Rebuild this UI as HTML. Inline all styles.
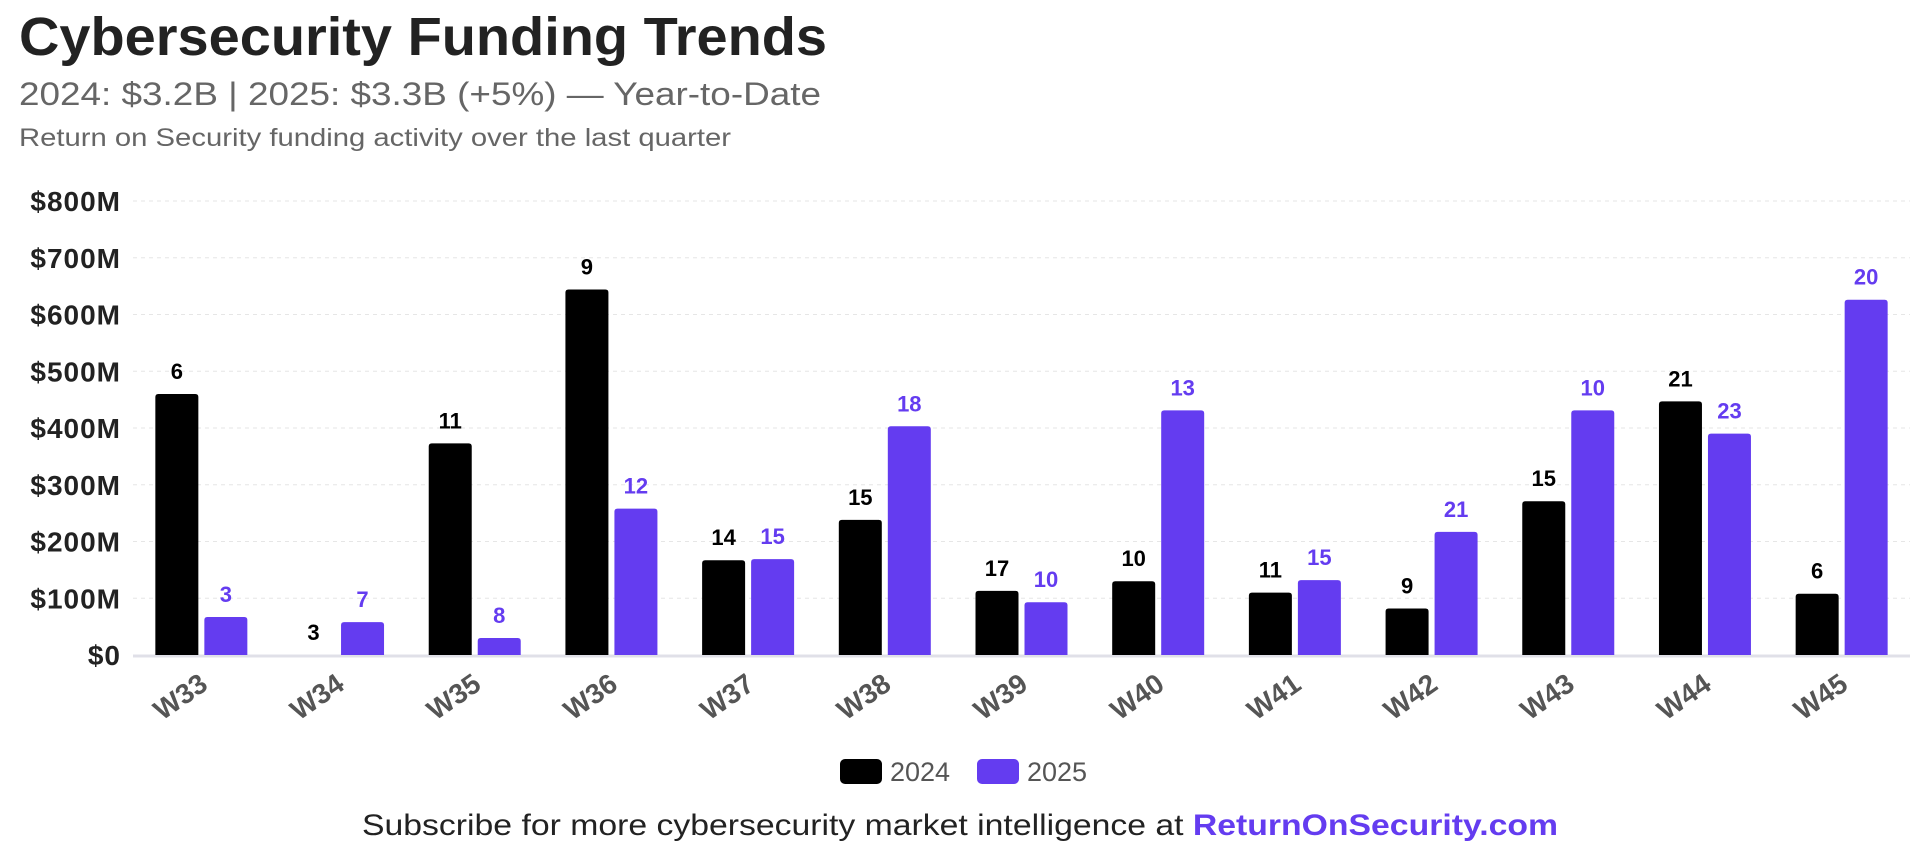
<!DOCTYPE html>
<html><head><meta charset="utf-8"><style>
body{margin:0;width:1920px;height:847px;background:#fff;overflow:hidden;font-family:"Liberation Sans",Arial,sans-serif}
svg text{font-family:"Liberation Sans",Arial,sans-serif}
</style></head><body>
<svg id="c" width="1920" height="847">
<text x="19" y="55" font-size="54" font-weight="bold" fill="#222" textLength="808" lengthAdjust="spacingAndGlyphs">Cybersecurity Funding Trends</text>
<text x="19" y="105" font-size="32" fill="#666" textLength="802" lengthAdjust="spacingAndGlyphs">2024: $3.2B | 2025: $3.3B (+5%) — Year-to-Date</text>
<text x="19" y="146" font-size="25" fill="#666" textLength="712" lengthAdjust="spacingAndGlyphs">Return on Security funding activity over the last quarter</text>
<g id="grid"></g><g id="bars"></g><g id="xl"></g>
<g>
<rect x="840" y="759" width="42" height="25" rx="5" fill="#000"/>
<text x="890" y="781" font-size="27" fill="#555">2024</text>
<rect x="977" y="759" width="42" height="25" rx="5" fill="#643cf0"/>
<text x="1027" y="781" font-size="27" fill="#555">2025</text>
</g>
<text x="362" y="835" font-size="30" fill="#222" textLength="1196" lengthAdjust="spacingAndGlyphs">Subscribe for more cybersecurity market intelligence at <tspan font-weight="bold" fill="#643cf0">ReturnOnSecurity.com</tspan></text>
</svg>
<script>
const categories=["W33","W34","W35","W36","W37","W38","W39","W40","W41","W42","W43","W44","W45"];
const values2024=[460,0,373,644,167,238,113,130,110,82,271,447,108];
const values2025=[67,58,30,258,169,403,93,431,132,217,431,390,626];
const counts2024=[6,3,11,9,14,15,17,10,11,9,15,21,6];
const counts2025=[3,7,8,12,15,18,10,13,15,21,10,23,20];
const yTicks=[0,100,200,300,400,500,600,700,800];
const yTickLabels=["$0","$100M","$200M","$300M","$400M","$500M","$600M","$700M","$800M"];
const NS="http://www.w3.org/2000/svg";
const x0=133,x1=1910,y0=655,yTop=201,yMax=800;
const bw=(x1-x0)/categories.length;
const y=v=>y0-(v/yMax)*(y0-yTop);
const xc=i=>x0+bw*(i+0.5);
function mk(t,a,p){const e=document.createElementNS(NS,t);for(const k in a)e.setAttribute(k,a[k]);p.appendChild(e);return e;}
const grid=document.getElementById('grid'),bars=document.getElementById('bars'),xl=document.getElementById('xl');
yTicks.forEach((v,i)=>{
 if(i>0){const l=mk('line',{x1:x0,x2:x1,y1:y(v),y2:y(v),stroke:'#e6e6e6','stroke-dasharray':'4,4'},grid);
 
 }
 const t=mk('text',{x:121,y:y(v)+10,'font-size':28,'font-weight':'bold','letter-spacing':1,'text-anchor':'end',fill:'#222'},grid);
 t.textContent=yTickLabels[i];
 
 
});
const base=mk('line',{x1:x0,x2:x1,y1:y0+1,y2:y0+1,stroke:'#e0e0e8','stroke-width':3},grid);


const w=43,g=6;
categories.forEach((c,i)=>{
 [[values2024,counts2024,'#000','#000',-1,'2024'],[values2025,counts2025,'#643cf0','#643cf0',1,'2025']].forEach(([vals,cnt,col,tc,s,yr])=>{
  const bx=s<0?xc(i)-g/2-w:xc(i)+g/2;
  const v=vals[i];
  if(v>0){const r=mk('path',{d:`M${bx},${y0} V${y(v)+3} Q${bx},${y(v)} ${bx+3},${y(v)} H${bx+w-3} Q${bx+w},${y(v)} ${bx+w},${y(v)+3} V${y0} Z`,fill:col},bars);
  
  }
  const t=mk('text',{x:bx+w/2,y:y(v)-15,'font-size':22,'font-weight':'bold','text-anchor':'middle',fill:tc},bars);
  t.textContent=cnt[i];
  
  
 });
 const t=mk('text',{x:xc(i)+8,y:688,'font-size':28,'font-weight':'bold','text-anchor':'end',fill:'#555',transform:`rotate(-35 ${xc(i)+8} 688)`},xl);
 t.textContent=c;
 
 
});
</script>
</body></html>
